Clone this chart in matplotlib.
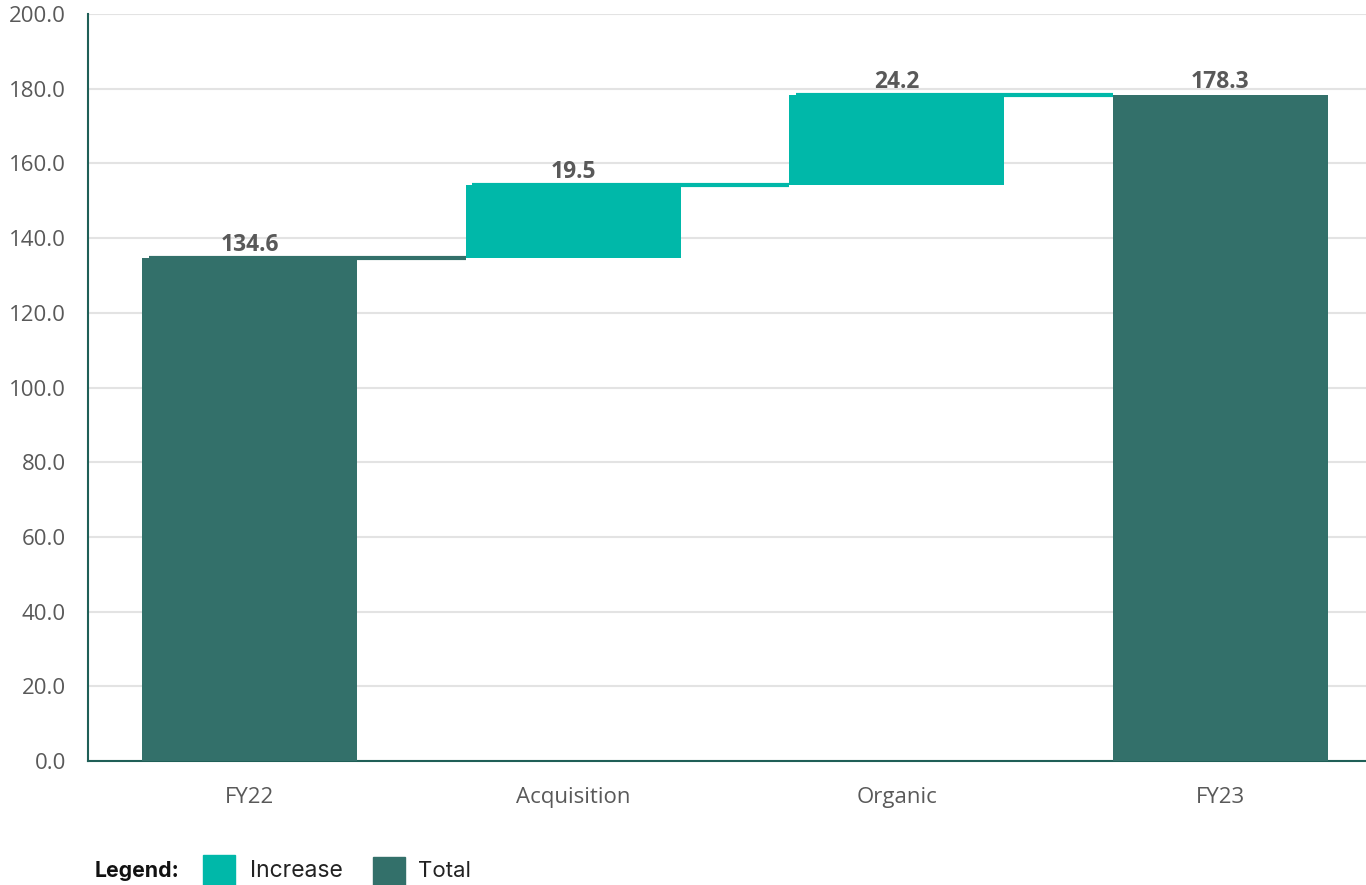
import matplotlib.pyplot as plt
from matplotlib.patches import Rectangle

# data
categories = ["FY22", "Acquisition", "Organic", "FY23"]
values = [134.6, 19.5, 24.2, 178.3]
kinds = ["total", "increase", "increase", "total"]
y_ticks = [0, 20, 40, 60, 80, 100, 120, 140, 160, 180, 200]

col_total = "#33706A"
col_inc = "#00B8A9"
txt_col = "#595959"

plt.rcParams['font.family'] = ['Open Sans', 'DejaVu Sans']

fig = plt.figure(figsize=(13.66, 8.85), dpi=100)
ax = fig.add_axes([88/1366, 1 - 761/885, (1366 - 88)/1366, (761 - 14)/885])

width = 0.665
bottoms = []
running = 0
for v, k in zip(values, kinds):
    if k == "total":
        bottoms.append(0)
        running = v
    else:
        bottoms.append(running)
        running += v
heights = values
tops = [b + h for b, h in zip(bottoms, heights)]
colors = [col_total if k == "total" else col_inc for k in kinds]

x = list(range(len(categories)))
ax.bar(x, heights, bottom=bottoms, width=width, color=colors, zorder=3)

# connectors
for i in range(len(x) - 1):
    ax.plot([x[i] - width / 2 + 0.02, x[i + 1] - width / 2], [tops[i], tops[i]],
            color=colors[i], lw=3, zorder=4, solid_capstyle="butt")

# value labels
for i, v in enumerate(values):
    ax.text(x[i], tops[i] + 0.3, f"{v:.1f}", ha="center", va="bottom",
            fontsize=16.5, fontweight="bold", color=txt_col, zorder=5)

ax.set_ylim(0, 200)
ax.set_xlim(-0.5, 3.45)
ax.set_yticks(y_ticks)
ax.set_yticklabels([f"{t:.1f}" for t in y_ticks])
ax.set_xticks(x)
ax.set_xticklabels(categories)
ax.tick_params(axis="both", length=0, labelsize=16, labelcolor=txt_col)
ax.tick_params(axis="x", pad=19)
ax.tick_params(axis="y", pad=16)
ax.grid(axis="y", color="#e3e3e3", lw=1.5, zorder=0)
ax.set_axisbelow(True)
for s in ["top", "right"]:
    ax.spines[s].set_visible(False)
ax.spines["left"].set_color("#1f5f57")
ax.spines["bottom"].set_color("#1f5f57")
ax.spines["left"].set_linewidth(1.5)
ax.spines["bottom"].set_linewidth(1.5)

# legend row
fig.text(95/1366, 1 - 871/885, "Legend:", fontsize=15.3, fontweight="bold",
         color="#111111", va="center", family=["Inter", "DejaVu Sans"])
fig.patches.append(Rectangle((203/1366, 1 - 885/885), 32/1366, 30/885,
                             transform=fig.transFigure, color=col_inc))
fig.text(250/1366, 1 - 871/885, "Increase", fontsize=16.5, color="#222222",
         va="center", family=["Inter", "DejaVu Sans"])
fig.patches.append(Rectangle((373/1366, 1 - 885/885), 32/1366, 28/885,
                             transform=fig.transFigure, color=col_total))
fig.text(418/1366, 1 - 871/885, "Total", fontsize=16, color="#222222",
         va="center", family=["Inter", "DejaVu Sans"])

fig.savefig("out.png", dpi=100)
